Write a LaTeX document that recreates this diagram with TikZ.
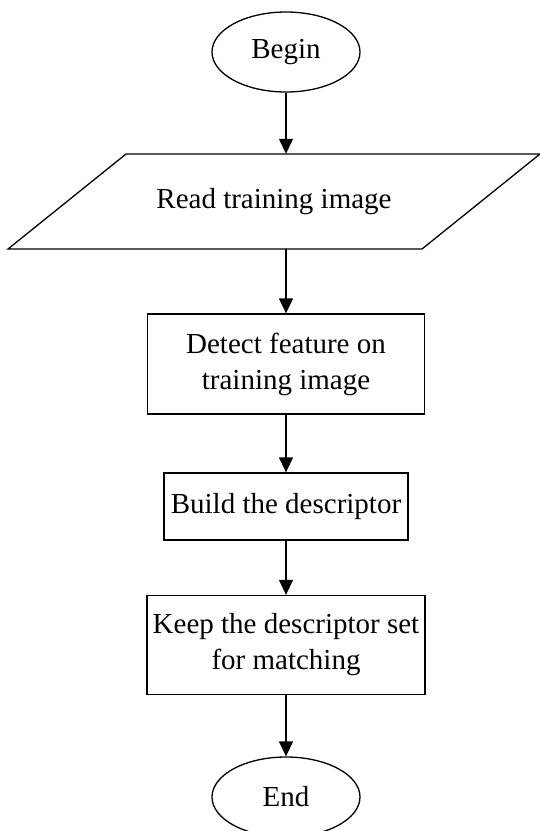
\documentclass[tikz,border=0pt]{standalone}
\usepackage{fontspec}
\setmainfont{Liberation Serif}
\usetikzlibrary{arrows.meta,shapes.geometric}
\begin{document}
\begin{tikzpicture}[x=1pt,y=-1pt,
  every node/.style={font=\fontsize{29}{36}\selectfont, align=center, inner sep=0pt},
  term/.style={draw, ellipse, line width=1.3pt, minimum width=148pt, minimum height=80pt},
  proc/.style={draw, rectangle, line width=1.3pt},
  flow/.style={line width=1.3pt, -{Triangle[length=15pt,width=14pt]}}]
\useasboundingbox (0,0) rectangle (540,831);
\node[term] (begin) at (286,52) {Begin};
\node[minimum width=300pt, minimum height=95pt] (read) at (274,201.5) {Read training image};
\draw[proc] (126,154) -- (540,154) -- (422,249) -- (8,249) -- cycle;
\node[proc, minimum width=277pt, minimum height=100pt] (detect) at (286,364) {Detect feature on\\training image};
\node[proc, minimum width=244pt, minimum height=67pt] (build) at (286,506.5) {Build the descriptor};
\node[proc, minimum width=278pt, minimum height=99pt] (keep) at (286,645) {Keep the descriptor set\\for matching};
\node[term] (end) at (286,797) {End};
\draw[flow] (begin.south) -- (begin.south |- read.north);
\draw[flow] (begin.south |- read.south) -- (detect.north);
\draw[flow] (detect.south) -- (build.north);
\draw[flow] (build.south) -- (keep.north);
\draw[flow] (keep.south) -- (end.north);
\end{tikzpicture}
\end{document}
